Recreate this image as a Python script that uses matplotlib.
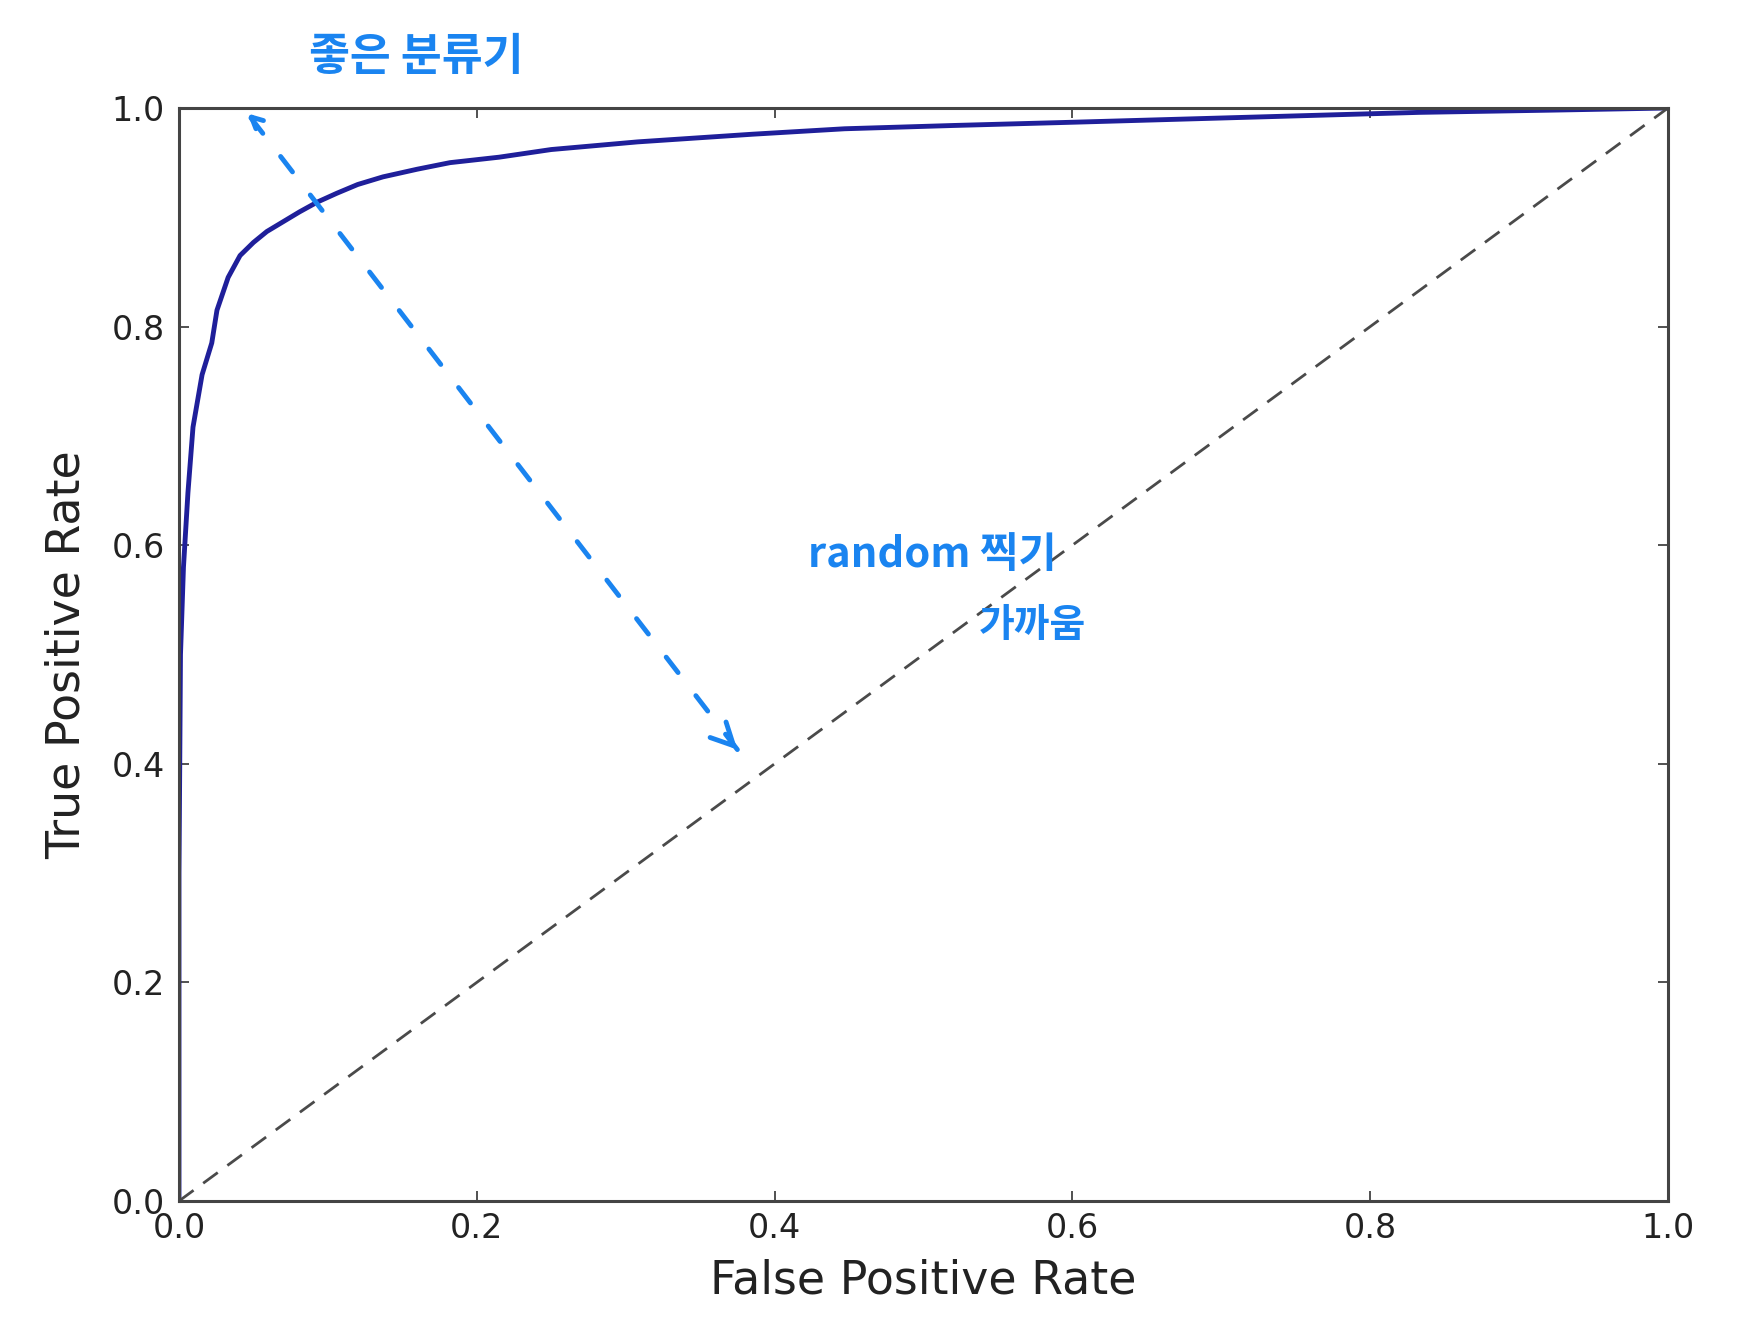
import numpy as np
import matplotlib
matplotlib.use("Agg")
import matplotlib.pyplot as plt

# ROC curve
fpr = [0.0, 0.0, 0.001, 0.003, 0.006, 0.0094, 0.0141, 0.0155, 0.022, 0.0255,
       0.033, 0.041, 0.05, 0.059, 0.07, 0.081, 0.093, 0.106, 0.12, 0.137,
       0.16, 0.182, 0.215, 0.25, 0.308, 0.385, 0.447, 0.52, 0.601, 0.73,
       0.833, 0.92, 1.0]
tpr = [0.0, 0.3, 0.5, 0.58, 0.648, 0.708, 0.745, 0.756, 0.785, 0.815,
       0.845, 0.865, 0.877, 0.887, 0.896, 0.905, 0.914, 0.922, 0.93, 0.937,
       0.944, 0.95, 0.955, 0.962, 0.969, 0.976, 0.981, 0.984, 0.987, 0.992,
       0.996, 0.998, 1.0]
diag = [0.0, 1.0]
ticks = [0.0, 0.2, 0.4, 0.6, 0.8, 1.0]

# handwritten notes
note_good = "좋은 분류기"
note_rand1 = "random 찍기"
note_rand2 = "가까움"
arrow_top = (0.046, 0.995)
arrow_bottom = (0.375, 0.413)

pen = '#1a84f0'
hand_font = ['Noto Sans CJK KR', 'DejaVu Sans']
W, H = 1750, 1335

fig = plt.figure(figsize=(W / 100, H / 100), dpi=100)
ax = fig.add_axes([179 / W, 1 - 1201 / H, (1668 - 179) / W, (1201 - 108) / H])

ax.plot(fpr, tpr, color='#1f1f9a', lw=3.5, solid_joinstyle='round')
ax.plot(diag, diag, color='#4a4a4a', lw=2, dashes=(6.5, 4.3))

ax.set_xlim(0, 1)
ax.set_ylim(0, 1)
ax.set_xticks(ticks)
ax.set_yticks(ticks)
ax.set_xticklabels(['%.1f' % t for t in ticks])
ax.set_yticklabels(['%.1f' % t for t in ticks])
ax.tick_params(direction='in', length=7, width=1.2, color='#333333',
               labelsize=24, labelcolor='#222222', top=True, right=True)
ax.tick_params(axis='y', pad=10)
ax.tick_params(axis='x', pad=8)
for s in ax.spines.values():
    s.set_linewidth(2.2)
    s.set_color('#444444')

ax.set_xlabel('False Positive Rate', fontsize=33, color='#222222', labelpad=10)
ax.set_ylabel('True Positive Rate', fontsize=33, color='#222222', labelpad=16)

# dashed blue arrow drawn by hand
ax.annotate('', xy=arrow_top, xytext=arrow_bottom,
            arrowprops=dict(arrowstyle='-', color=pen, lw=3.5,
                            linestyle=(0, (4, 6)), shrinkA=0, shrinkB=0,
                            capstyle='round'))
for tip, back in [(arrow_bottom, (0.37, 0.42)), (arrow_top, (0.05, 0.99))]:
    hl = 1.6 if tip == arrow_bottom else 0.8
    ax.annotate('', xy=tip, xytext=back,
                arrowprops=dict(arrowstyle='->,head_length=%s,head_width=%s' % (hl, hl / 2),
                                color=pen, lw=3.5, shrinkA=0, shrinkB=0))

fig.text(416 / W, 1 - 57 / H, note_good, color=pen, fontsize=32,
         family=hand_font, weight='bold', ha='center', va='center')
fig.text(932 / W, 1 - 555 / H, note_rand1, color=pen, fontsize=30,
         family=hand_font, weight='bold', ha='center', va='center')
fig.text(1032 / W, 1 - 625 / H, note_rand2, color=pen, fontsize=28,
         family=hand_font, weight='bold', ha='center', va='center')

plt.savefig('out.png', dpi=100)
